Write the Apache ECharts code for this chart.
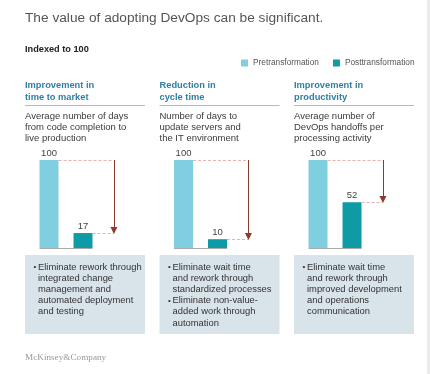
<!DOCTYPE html>
<html>
<head>
<meta charset="utf-8">
<script src="https://cdn.jsdelivr.net/npm/echarts@6/dist/echarts.min.js"></script>
<style>html,body{margin:0;padding:0;background:#fff}#c{width:430px;height:374px}</style>
</head>
<body>
<div id="c"></div>
<script>
const categories = ['Pretransformation', 'Posttransformation'];
const panelTitles = ['Improvement in\ntime to market', 'Reduction in\ncycle time', 'Improvement in\nproductivity'];
const panelSubtitles = ['Average number of days\nfrom code completion to\nlive production', 'Number of days to\nupdate servers and\nthe IT environment', 'Average number of\nDevOps handoffs per\nprocessing activity'];
const preValues = [100, 100, 100];
const postValues = [17, 10, 52];
const bullets = [
  ['Eliminate rework through\nintegrated change\nmanagement and\nautomated deployment\nand testing'],
  ['Eliminate wait time\nand rework through\nstandardized processes', 'Eliminate non-value-\nadded work through\nautomation'],
  ['Eliminate wait time\nand rework through\nimproved development\nand operations\ncommunication']
];
const title = 'The value of adopting DevOps can be significant.';
const subtitle = 'Indexed to 100';
const footer = 'McKinsey&Company';

const FONT = "'Liberation Sans', Arial, sans-serif";
const PRE = '#7fcfe0', POST = '#0f9ba6';
const panelLeft = [25, 159.5, 294];
const panelW = 120;
const xMin = -0.28, xMax = 2.0, barEdge = 0.28, arrowX = 1.91;

const grids = [], xAxes = [], yAxes = [], series = [], graphic = [];
panelLeft.forEach((L, i) => {
  grids.push({ left: L + 14.5, top: 160, width: 77.5, height: 88 });
  xAxes.push({ type: 'value', gridIndex: i, min: xMin, max: xMax, show: false });
  yAxes.push({ type: 'value', gridIndex: i, min: 0, max: 100, show: false });
  const lbl = { show: true, position: 'top', distance: 2, fontSize: 9.5, color: '#444', fontFamily: FONT };
  const dash = { color: '#eab3ab', type: [3, 2], width: 1 };
  series.push({ name: categories[0], type: 'bar', xAxisIndex: i, yAxisIndex: i, barWidth: 19, barGap: '-100%', itemStyle: { color: PRE }, label: lbl, data: [[0, preValues[i]]] });
  series.push({ name: categories[1], type: 'bar', xAxisIndex: i, yAxisIndex: i, barWidth: 19, barGap: '-100%', itemStyle: { color: POST }, label: lbl, data: [[1, postValues[i]]],
    markLine: { silent: true, animation: false, symbol: ['none', 'none'], label: { show: false }, emphasis: { disabled: true },
      data: [
        [{ coord: [xMin, 0], lineStyle: { color: '#aaa', type: 'solid', width: 1 } }, { coord: [1 + barEdge, 0] }],
        [{ coord: [barEdge, preValues[i]], lineStyle: dash }, { coord: [arrowX, preValues[i]] }],
        [{ coord: [1 + barEdge, postValues[i]], lineStyle: dash }, { coord: [arrowX, postValues[i]] }],
        [{ coord: [arrowX, preValues[i]], lineStyle: { color: '#8a3b2d', type: 'solid', width: 1 } }, { coord: [arrowX, postValues[i] + 3], symbol: 'triangle', symbolSize: [7, 7] }]
      ] } });
  graphic.push({ type: 'text', left: L, top: 79, style: { text: panelTitles[i], font: 'bold 9.3px ' + FONT, fill: '#2e7fa3', lineHeight: 12 } });
  graphic.push({ type: 'line', shape: { x1: L, y1: 105.5, x2: L + panelW, y2: 105.5 }, style: { stroke: '#b8b8b8', lineWidth: 1 } });
  graphic.push({ type: 'text', left: L, top: 110.5, style: { text: panelSubtitles[i], font: '9.5px ' + FONT, fill: '#3a3a3a', lineHeight: 11 } });
  graphic.push({ type: 'rect', shape: { x: L, y: 255, width: panelW, height: 79 }, style: { fill: '#d9e3ea' } });
  let lineIdx = 0;
  bullets[i].forEach(b => {
    const top = 261.5 + lineIdx * 11.2;
    graphic.push({ type: 'text', x: L + 8.5, y: top, style: { text: '•', font: '8px ' + FONT, fill: '#333', lineHeight: 11.2, verticalAlign: 'top' } });
    graphic.push({ type: 'text', x: L + 13, y: top, style: { text: b, font: '9.4px ' + FONT, fill: '#333', lineHeight: 11.2, verticalAlign: 'top' } });
    lineIdx += b.split('\n').length;
  });
});
graphic.push({ type: 'text', x: 25, y: 18, style: { text: title, font: '13.7px ' + FONT, fill: '#555', verticalAlign: 'middle' } });
graphic.push({ type: 'text', x: 25, y: 49, style: { text: subtitle, font: 'bold 9.2px ' + FONT, fill: '#222', verticalAlign: 'middle' } });
graphic.push({ type: 'text', x: 25, y: 358, style: { text: footer, font: '9.2px "Liberation Serif", "Times New Roman", serif', fill: '#999', verticalAlign: 'middle' } });
graphic.push({ type: 'rect', shape: { x: 427, y: 0, width: 3, height: 374 }, style: { fill: '#ececec' } });

const chart = echarts.init(document.getElementById('c'));
chart.setOption({
  animation: false,
  backgroundColor: '#fff',
  legend: { data: categories, left: 241, top: 59, padding: 0, icon: 'rect', itemWidth: 7, itemHeight: 7, itemGap: 14, textStyle: { fontSize: 8.3, color: '#555', fontFamily: FONT } },
  grid: grids, xAxis: xAxes, yAxis: yAxes, series: series, graphic: graphic
});
</script>
</body>
</html>
